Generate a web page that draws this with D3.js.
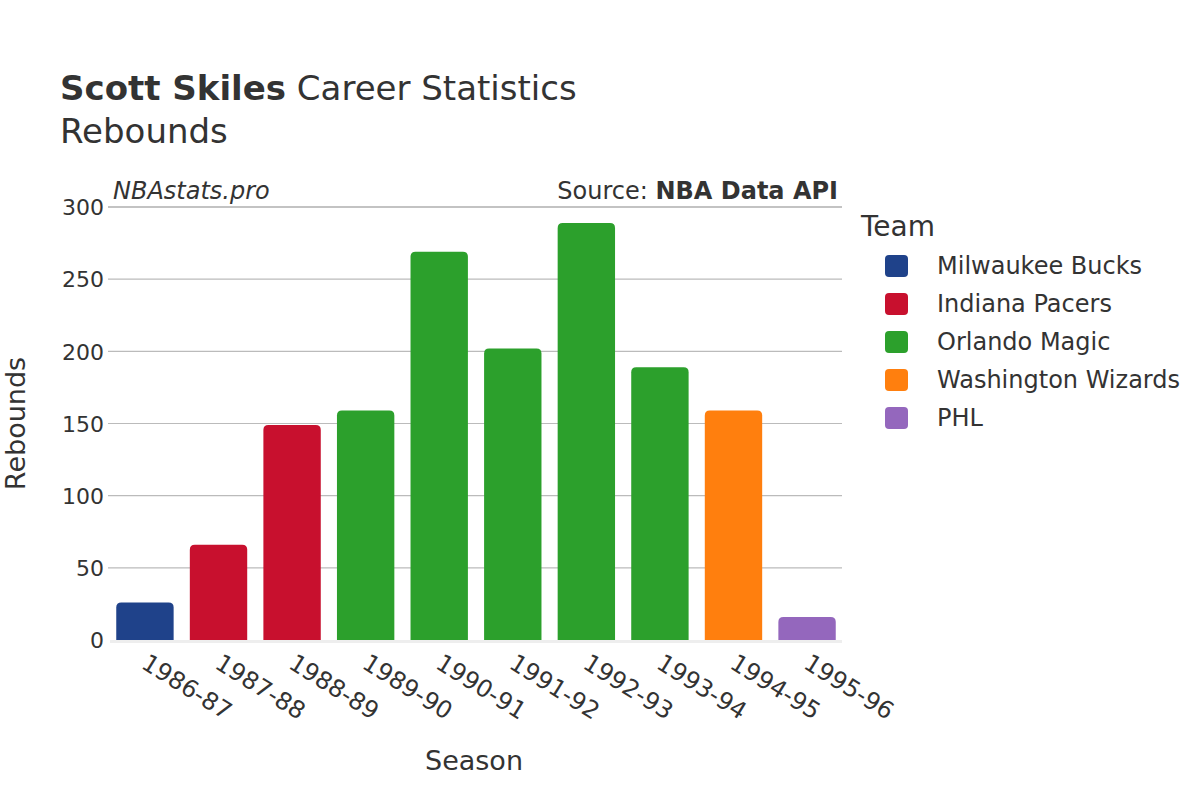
<!DOCTYPE html>
<html>
<head>
<meta charset="utf-8">
<style>
  body { margin: 0; background: #fff; }
  svg text { font-family: "DejaVu Sans", sans-serif; fill: #333; }
</style>
</head>
<body>
<svg width="1200" height="800" id="chart"></svg>
<script src="https://cdn.jsdelivr.net/npm/d3@7"></script>
<script>
// data
var seasons = ["1986-87", "1987-88", "1988-89", "1989-90", "1990-91",
               "1991-92", "1992-93", "1993-94", "1994-95", "1995-96"];
var rebounds = [26, 66, 149, 159, 269, 202, 289, 189, 159, 16];
var seasonTeam = ["Milwaukee Bucks", "Indiana Pacers", "Indiana Pacers", "Orlando Magic", "Orlando Magic",
                  "Orlando Magic", "Orlando Magic", "Orlando Magic", "Washington Wizards", "PHL"];
var teams = ["Milwaukee Bucks", "Indiana Pacers", "Orlando Magic", "Washington Wizards", "PHL"];
var teamColors = ["#1f428a", "#c8102e", "#2ca02c", "#ff7f0e", "#9467bd"];
var yTicks = [0, 50, 100, 150, 200, 250, 300];

var svg = d3.select("#chart"),
    margin = {top: 207, right: 358, bottom: 160, left: 110},
    width = 1200 - margin.left - margin.right,
    height = 800 - margin.top - margin.bottom;

var g = svg.append("g")
    .attr("transform", "translate(" + margin.left + "," + margin.top + ")");

var x = d3.scaleBand().domain(seasons).range([0, width]).paddingInner(0.22).paddingOuter(0.085);
var y = d3.scaleLinear().domain([0, 300]).range([height, 0]);
var color = d3.scaleOrdinal().domain(teams).range(teamColors);

// gridlines
g.append("g")
  .selectAll("line")
  .data(yTicks.filter(function(d) { return d > 0; }))
  .enter().append("line")
    .attr("x1", -2).attr("x2", width)
    .attr("y1", function(d) { return y(d); })
    .attr("y2", function(d) { return y(d); })
    .attr("stroke", function(d) { return d === 300 ? "#888" : "#bbb"; })
    .attr("stroke-width", 1.2);

// y tick labels
var yAxis = g.append("g")
    .call(d3.axisLeft(y).tickValues(yTicks).tickSize(0).tickPadding(6));
yAxis.select(".domain").remove();
yAxis.selectAll("text")
    .style("font-size", "22px")
    .style("font-family", "'DejaVu Sans', sans-serif")
    .attr("fill", "#333")
    .attr("dy", "0.35em");

// bars with rounded tops
var r = 5;
function barPath(i) {
  var x0 = x(seasons[i]), w = x.bandwidth(), y0 = y(rebounds[i]), yb = y(0);
  var rr = Math.min(r, (yb - y0) / 2);
  return "M" + x0 + "," + yb +
         "V" + (y0 + rr) +
         "Q" + x0 + "," + y0 + " " + (x0 + rr) + "," + y0 +
         "H" + (x0 + w - rr) +
         "Q" + (x0 + w) + "," + y0 + " " + (x0 + w) + "," + (y0 + rr) +
         "V" + yb + "Z";
}
g.append("g")
  .selectAll("path")
  .data(d3.range(seasons.length))
  .enter().append("path")
    .attr("d", barPath)
    .attr("fill", function(i) { return color(seasonTeam[i]); });

// zero line
g.append("line")
    .attr("x1", 0).attr("x2", width)
    .attr("y1", y(0) + 1.5).attr("y2", y(0) + 1.5)
    .attr("stroke", "#eee").attr("stroke-width", 3);

// x tick labels
var xAxis = g.append("g")
    .attr("transform", "translate(0," + height + ")")
    .call(d3.axisBottom(x).tickSize(0).tickPadding(0));
xAxis.select(".domain").remove();
xAxis.selectAll("text")
    .style("font-size", "24px")
    .style("font-family", "'DejaVu Sans', sans-serif")
    .attr("fill", "#333")
    .attr("text-anchor", "start")
    .attr("transform", "translate(4,13) rotate(32)")
    .attr("dy", "0.7em")
    .attr("y", 0);

// titles
var title = svg.append("text").attr("x", 60).attr("y", 100).style("font-size", "34px");
title.append("tspan").attr("font-weight", "bold").text("Scott Skiles");
title.append("tspan").text(" Career Statistics");
svg.append("text").attr("x", 60).attr("y", 143).style("font-size", "34px").text("Rebounds");

svg.append("text").attr("x", 113).attr("y", 199)
    .style("font-size", "24px").style("font-style", "italic").text("NBAstats.pro");
var src = svg.append("text").attr("x", 838).attr("y", 199)
    .attr("text-anchor", "end").style("font-size", "24px");
src.append("tspan").text("Source: ");
src.append("tspan").attr("font-weight", "bold").text("NBA Data API");

// axis titles
svg.append("text").attr("x", margin.left + width / 2 - 2).attr("y", 770)
    .attr("text-anchor", "middle").style("font-size", "27px").text("Season");
svg.append("text")
    .attr("transform", "translate(25," + (margin.top + height / 2) + ") rotate(-90)")
    .attr("text-anchor", "middle").style("font-size", "27px").text("Rebounds");

// legend
svg.append("text").attr("x", 861).attr("y", 236).style("font-size", "28px").text("Team");
var leg = svg.append("g").selectAll("g")
    .data(teams)
    .enter().append("g")
    .attr("transform", function(d, i) { return "translate(885," + (266 + i * 38) + ")"; });
leg.append("rect")
    .attr("x", 0).attr("y", -11).attr("width", 23).attr("height", 22)
    .attr("rx", 4).attr("fill", function(d) { return color(d); });
leg.append("text")
    .attr("x", 52).attr("dy", "0.35em")
    .style("font-size", "24px").text(function(d) { return d; });
</script>
</body>
</html>
